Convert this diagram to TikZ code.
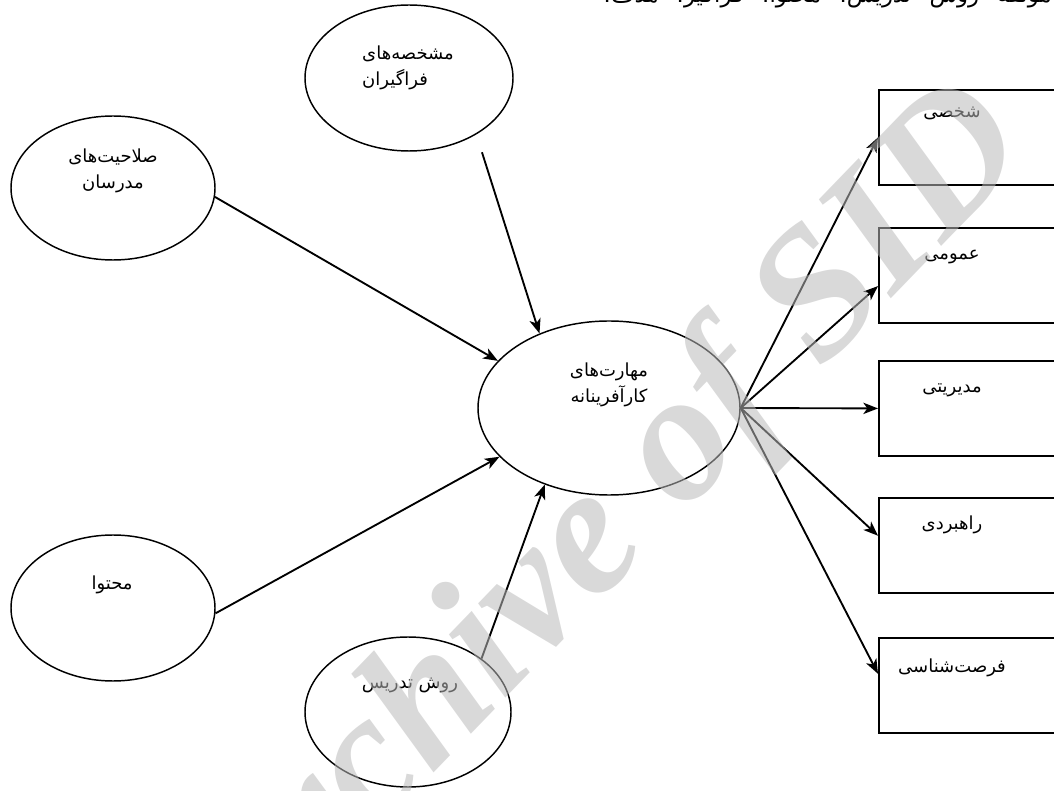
\documentclass[tikz,border=0pt]{standalone}
\usepackage{fontspec}
\usetikzlibrary{shapes.geometric,arrows.meta,calc}
\TeXXeTstate=1
\setmainfont{Liberation Serif}
\newfontfamily\arabicfont[Script=Arabic]{DejaVu Sans}
\newcommand\fa[1]{\beginR#1\endR}
\definecolor{wm}{gray}{0.725}
\begin{document}
\begin{tikzpicture}[x=0.75pt,y=-0.75pt,
  oval/.style={ellipse, draw, line width=1.1pt, inner sep=0pt},
  outbox/.style={rectangle, draw, line width=1.4pt, anchor=north west, minimum width=150pt, minimum height=71.25pt, inner sep=0pt},
  lbl/.style={font=\arabicfont\fontsize{13.5}{20}\selectfont, inner sep=0pt},
  arr/.style={-{Stealth[length=11pt,width=8.5pt,inset=3pt]}, line width=1.4pt},
]
\useasboundingbox (0,0) rectangle (1054,791);
\clip (0,0) rectangle (1054,791);

\node[font=\arabicfont\fontsize{17}{20}\selectfont, inner sep=0pt, anchor=base east] (toptext) at (1052,3)
  {\hbox to 336pt{\fa{مولفه\hfill روش\hfill تدریس،\hfill محتوا،\hfill فراگیر،\hfill هدف،}}};

\node[oval, minimum width=156pt, minimum height=109.5pt] (A) at (409,78) {};
\node[oval, minimum width=153pt, minimum height=108pt] (B) at (113,188) {};
\node[oval, minimum width=196.5pt, minimum height=130.5pt] (C) at (609,408) {};
\node[oval, minimum width=153pt, minimum height=109.5pt] (D) at (113,608) {};
\node[oval, minimum width=154.5pt, minimum height=112.5pt] (E) at (408,712) {};

\node[lbl, align=left] (tA) at (408,68) {\fa{مشخصه‌های}\\\fa{فراگیران}};
\node[lbl, align=center] (tB) at (113,171) {\fa{صلاحیت‌های}\\\fa{مدرسان}};
\node[lbl, align=center] (tC) at (609,385) {\fa{مهارت‌های}\\\fa{کارآفرینانه}};
\node[lbl] (tD) at (112,585) {\fa{محتوا}};
\node[lbl] (tE) at (410,685) {\fa{روش  تدریس}};

\node[outbox] (b1) at (878,89) {};
\node[outbox] (b2) at (878,227) {};
\node[outbox] (b3) at (878,360) {};
\node[outbox] (b4) at (878,497) {};
\node[outbox] (b5) at (878,637) {};

\node[lbl] (t1) at (952,113) {\fa{شخصی}};
\node[lbl] (t2) at (952,257) {\fa{عمومی}};
\node[lbl] (t3) at (952,390) {\fa{مدیریتی}};
\node[lbl] (t4) at (952,525) {\fa{راهبردی}};
\node[lbl] (t5) at (952,668) {\fa{فرصت‌شناسی}};

\draw[arr] (B.-5) -- (C.157);
\draw[arr, shorten <=14pt] (A.-40.5) -- (C.133);
\draw[arr] (D.-3) -- (C.-156);
\draw[arr] (E.36) -- (C.-130);

\draw[arr] (C.east) -- ($(b1.north west)!0.5!(b1.south west)$);
\draw[arr] (C.east) -- ($(b2.north west)!0.61!(b2.south west)$);
\draw[arr] (C.east) -- ($(b3.north west)!0.5!(b3.south west)$);
\draw[arr] (C.east) -- ($(b4.north west)!0.4!(b4.south west)$);
\draw[arr] (C.east) -- ($(b5.north west)!0.38!(b5.south west)$);

\node[font=\fontsize{138}{138}\selectfont\bfseries\itshape, text=wm, opacity=0.54, rotate=46, anchor=base east, inner sep=0pt] (wmark) at (1035,150) {Archive of SID};
\end{tikzpicture}
\end{document}
